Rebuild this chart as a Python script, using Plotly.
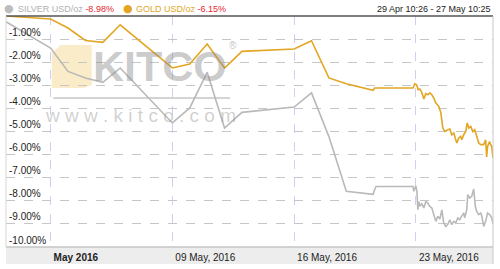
import plotly.graph_objects as go

# ---- data -------------------------------------------------------------
gold_time = [
    "2016-04-29 10:26", "2016-05-02 00:00", "2016-05-03 00:00", "2016-05-04 00:00",
    "2016-05-05 00:00", "2016-05-06 00:00", "2016-05-09 00:00", "2016-05-10 00:00",
    "2016-05-11 00:00", "2016-05-12 00:00", "2016-05-13 00:00", "2016-05-16 00:00",
    "2016-05-17 00:00", "2016-05-18 00:00", "2016-05-19 00:00", "2016-05-20 13:00",
    "2016-05-20 15:00", "2016-05-22 20:00", "2016-05-22 22:35", "2016-05-23 01:25",
    "2016-05-23 03:00", "2016-05-23 05:30", "2016-05-23 08:10", "2016-05-23 11:00",
    "2016-05-23 13:40", "2016-05-23 16:30", "2016-05-23 19:10", "2016-05-23 22:00",
    "2016-05-24 00:45", "2016-05-24 03:30", "2016-05-24 07:40", "2016-05-24 10:30",
    "2016-05-24 13:10", "2016-05-24 16:00", "2016-05-24 20:00", "2016-05-24 22:50",
    "2016-05-25 01:30", "2016-05-25 04:20", "2016-05-25 07:00", "2016-05-25 08:30",
    "2016-05-25 11:10", "2016-05-25 13:50", "2016-05-25 15:20", "2016-05-25 18:00",
    "2016-05-25 20:50", "2016-05-25 22:50", "2016-05-26 01:00", "2016-05-26 03:40",
    "2016-05-26 06:30", "2016-05-26 09:10", "2016-05-26 12:00", "2016-05-26 14:40",
    "2016-05-26 17:30", "2016-05-26 21:35", "2016-05-27 00:15", "2016-05-27 01:40",
    "2016-05-27 02:55", "2016-05-27 05:45", "2016-05-27 07:10", "2016-05-27 08:35",
    "2016-05-27 10:25",
]
gold_pct = [
    0.00, -0.13, -0.52, -1.06,
    -1.14, -0.38, -2.25, -2.08,
    -1.21, -2.25, -1.53, -1.43,
    -1.07, -2.68, -2.93, -3.22,
    -3.12, -3.12, -2.93, -3.00,
    -3.19, -3.16, -3.31, -3.59,
    -3.36, -3.41, -3.33, -3.41,
    -3.55, -3.77, -3.91, -4.20,
    -4.85, -5.00, -4.92, -4.89,
    -5.14, -5.06, -5.36, -5.50,
    -5.28, -5.21, -5.36, -5.14,
    -5.00, -4.63, -4.85, -4.78,
    -5.00, -4.92, -5.21, -5.50,
    -5.57, -5.57, -5.36, -6.10,
    -5.65, -5.43, -5.57, -5.65,
    -6.15,
]

silver_time = [
    "2016-04-29 10:26", "2016-05-02 00:00", "2016-05-03 00:00", "2016-05-04 00:00",
    "2016-05-05 00:00", "2016-05-06 00:00", "2016-05-09 00:00", "2016-05-10 00:00",
    "2016-05-11 00:00", "2016-05-12 00:00", "2016-05-13 00:00", "2016-05-16 00:00",
    "2016-05-17 00:00", "2016-05-18 00:00", "2016-05-19 00:00", "2016-05-20 13:00",
    "2016-05-20 15:00", "2016-05-20 17:00", "2016-05-22 20:00", "2016-05-22 21:10",
    "2016-05-23 00:00", "2016-05-23 01:25", "2016-05-23 02:40", "2016-05-23 04:05",
    "2016-05-23 05:30", "2016-05-23 08:10", "2016-05-23 11:00", "2016-05-23 13:40",
    "2016-05-23 16:30", "2016-05-23 19:10", "2016-05-23 22:00", "2016-05-24 00:45",
    "2016-05-24 03:30", "2016-05-24 06:15", "2016-05-24 09:05", "2016-05-24 11:50",
    "2016-05-24 14:25", "2016-05-24 17:15", "2016-05-24 20:00", "2016-05-24 22:50",
    "2016-05-25 01:30", "2016-05-25 04:20", "2016-05-25 07:00", "2016-05-25 09:50",
    "2016-05-25 12:30", "2016-05-25 15:20", "2016-05-25 18:00", "2016-05-25 19:25",
    "2016-05-25 22:10", "2016-05-25 23:35", "2016-05-26 02:20", "2016-05-26 05:00",
    "2016-05-26 07:50", "2016-05-26 10:00", "2016-05-26 12:00", "2016-05-26 14:40",
    "2016-05-26 17:30", "2016-05-26 18:50", "2016-05-26 21:35", "2016-05-27 00:15",
    "2016-05-27 02:55", "2016-05-27 05:45", "2016-05-27 08:35", "2016-05-27 10:25",
]
silver_pct = [
    -0.25, -1.39, -2.40, -2.68,
    -2.87, -2.25, -4.63, -3.98,
    -2.44, -4.85, -4.17, -3.94,
    -3.33, -5.22, -7.59, -7.72,
    -7.52, -7.38, -7.38, -7.59,
    -7.35, -7.59, -8.39, -8.03,
    -8.24, -8.13, -8.31, -8.03,
    -8.10, -8.24, -8.31, -8.60,
    -8.89, -8.67, -8.79, -8.39,
    -8.96, -9.11, -9.03, -8.82,
    -9.03, -8.89, -8.96, -8.74,
    -8.82, -8.65, -8.53, -8.74,
    -8.39, -7.74, -7.88, -7.81,
    -7.49, -8.24, -8.46, -8.60,
    -8.53, -8.65, -9.11, -8.89,
    -8.53, -8.60, -8.74, -8.98,
]

y_tick_vals = [-1, -2, -3, -4, -5, -6, -7, -8, -9, -10]
y_tick_text = ["-1.00%", "-2.00%", "-3.00%", "-4.00%", "-5.00%",
               "-6.00%", "-7.00%", "-8.00%", "-9.00%", "-10.00%"]
x_tick_vals = ["2016-05-02", "2016-05-09", "2016-05-16", "2016-05-23"]
x_tick_text = ["<b>May 2016</b>", "09 May, 2016", "16 May, 2016", "23 May, 2016"]
x_range = ["2016-04-29 10:26", "2016-05-27 10:25"]

GOLD = "#e3a623"
SILVER = "#b9b9b9"
RED = "#e8242b"
FONT = "Liberation Sans, Arial, sans-serif"

fig = go.Figure()
fig.add_trace(go.Scatter(x=silver_time, y=silver_pct, mode="lines",
                         line=dict(color=SILVER, width=1.6), name="SILVER"))
fig.add_trace(go.Scatter(x=gold_time, y=gold_pct, mode="lines",
                         line=dict(color=GOLD, width=1.6), name="GOLD"))

shapes = []
# x-axis band
shapes.append(dict(type="rect", xref="paper", yref="paper", x0=0, x1=1,
                   y0=-0.074, y1=0, fillcolor="#ededed", line=dict(width=0),
                   layer="below"))
shapes.append(dict(type="line", xref="paper", yref="paper", x0=0, x1=1,
                   y0=0, y1=0, line=dict(color="#c4c4c4", width=1.5)))
# top border
shapes.append(dict(type="line", xref="paper", yref="paper", x0=0, x1=1,
                   y0=1, y1=1, line=dict(color="#555555", width=1.5)))
# left/right border
shapes.append(dict(type="line", xref="paper", yref="paper", x0=0, x1=0,
                   y0=0, y1=1, line=dict(color="#d6d6d6", width=1)))
shapes.append(dict(type="line", xref="paper", yref="paper", x0=1, x1=1,
                   y0=-0.074, y1=1, line=dict(color="#c8c8c8", width=1)))
# watermark emblem
shapes.append(dict(type="path", xref="paper", yref="paper",
                   path="M 0.094 0.84 L 0.112 0.874 L 0.176 0.874 L 0.176 0.70 "
                        "L 0.160 0.688 L 0.094 0.688 Z",
                   fillcolor="rgba(242,204,120,0.40)", line=dict(width=0),
                   layer="below"))
shapes.append(dict(type="line", xref="paper", yref="paper", x0=0.097, x1=0.46,
                   y0=0.645, y1=0.645, line=dict(color="rgba(170,170,170,0.5)", width=2),
                   layer="below"))
fig.update_layout(shapes=shapes)

HEAD_Y = 1 + (16.3 - 9) / 231
ann = []
ann.append(dict(text="<b>KITCO</b>", x=0.317, y=0.782, xref="paper", yref="paper",
                xanchor="center", yanchor="middle", showarrow=False,
                font=dict(family="Liberation Sans Narrow, Arial Narrow, sans-serif",
                          size=43, color="rgba(140,140,140,0.45)")))
ann.append(dict(text="®", x=0.466, y=0.872, xref="paper", yref="paper",
                xanchor="center", yanchor="middle", showarrow=False,
                font=dict(family=FONT, size=10, color="rgba(150,150,150,0.6)")))
ann.append(dict(text="w w w . k i t c o . c o m", x=0.277, y=0.571, xref="paper", yref="paper",
                xanchor="center", yanchor="middle", showarrow=False,
                font=dict(family=FONT, size=19, color="rgba(150,150,150,0.45)")))
# header
ann.append(dict(text="●", x=0.006, y=HEAD_Y, xref="paper", yref="paper",
                xanchor="center", yanchor="middle", showarrow=False,
                font=dict(family="DejaVu Sans", size=11, color="#bdbdbd")))
ann.append(dict(text="<span style='color:#b0b0b0'>SILVER USD/oz</span> "
                     f"<span style='color:{RED}'>-8.98%</span>",
                x=0.0215, y=HEAD_Y, xref="paper", yref="paper", xanchor="left",
                yanchor="middle", showarrow=False, font=dict(family=FONT, size=9)))
ann.append(dict(text="●", x=0.2505, y=HEAD_Y, xref="paper", yref="paper",
                xanchor="center", yanchor="middle", showarrow=False,
                font=dict(family="DejaVu Sans", size=11, color=GOLD)))
ann.append(dict(text=f"<span style='color:{GOLD}'>GOLD USD/oz</span> "
                     f"<span style='color:{RED}'>-6.15%</span>",
                x=0.262, y=HEAD_Y, xref="paper", yref="paper", xanchor="left",
                yanchor="middle", showarrow=False, font=dict(family=FONT, size=9)))
ann.append(dict(text="29 Apr 10:26 - 27 May 10:25", x=1, y=HEAD_Y, xref="paper", yref="paper",
                xanchor="right", yanchor="middle", showarrow=False,
                font=dict(family=FONT, size=9, color="#222222")))
fig.update_layout(annotations=ann)

fig.update_layout(
    width=500, height=269,
    margin=dict(l=6, r=7, t=16, b=22, pad=0),
    paper_bgcolor="white", plot_bgcolor="white",
    showlegend=False,
    font=dict(family=FONT, size=10, color="#222222"),
    xaxis=dict(range=x_range, type="date", tickvals=x_tick_vals, ticktext=x_tick_text,
               ticklabelposition="outside right", ticklabelshift=3, ticklabelstandoff=3,
               ticks="", showgrid=True,
               gridcolor="#cfcff5", griddash="dash", gridwidth=1, zeroline=False,
               showline=False, tickfont=dict(size=10, color="#222222", family=FONT)),
    yaxis=dict(range=[-10, 0], tickvals=y_tick_vals, ticktext=y_tick_text,
               ticklabelposition="inside top", ticks="", showgrid=True,
               gridcolor="#c6c6c6", griddash="dash", gridwidth=1, zeroline=False,
               showline=False, tickfont=dict(size=10, color="#222222", family=FONT)),
)

fig.write_html("out.html")
